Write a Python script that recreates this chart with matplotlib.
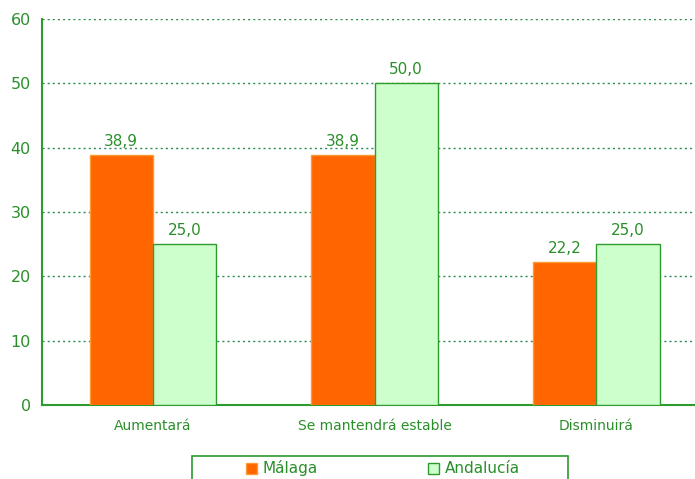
import matplotlib
matplotlib.use("Agg")
import matplotlib.pyplot as plt
from matplotlib.patches import Rectangle, Patch
import numpy as np

categories = ["Aumentará", "Se mantendrá estable", "Disminuirá"]
malaga = [38.9, 38.9, 22.2]
andalucia = [25.0, 50.0, 25.0]
series_names = ["Málaga", "Andalucía"]
yticks = [0, 10, 20, 30, 40, 50, 60]

GREEN = "#2E9B2E"
TXT = "#2A8F2A"
ORANGE = "#FF6600"
LIGHT = "#CCFFCC"

plt.rcParams['font.family'] = ['DejaVu Sans']
fig = plt.figure(figsize=(6.95, 4.79), dpi=100)
ax = fig.add_axes([0.0604, 0.1545, 0.9396, 0.8058])

x = np.arange(len(categories))
w = 0.285
b1 = ax.bar(x - w/2, malaga, w, color=ORANGE, edgecolor="#FF9933", linewidth=1, zorder=3)
b2 = ax.bar(x + w/2, andalucia, w, color=LIGHT, edgecolor=GREEN, linewidth=1, zorder=3)

for bars, vals in ((b1, malaga), (b2, andalucia)):
    for r, v in zip(bars, vals):
        ax.annotate(f"{v:.1f}".replace(".", ","), (r.get_x() + r.get_width()/2, v),
                    xytext=(0, 4.5), textcoords="offset points", ha="center", va="bottom",
                    fontsize=11, color=TXT)

ax.set_xlim(-0.5, 2.445)
ax.set_ylim(0, 60)
ax.set_yticks(yticks)
ax.set_xticks(x)
ax.set_xticklabels(categories, fontsize=10, color=TXT)
ax.tick_params(axis='y', labelsize=11.5, labelcolor=TXT, length=0, pad=8)
ax.tick_params(axis='x', length=0, pad=10)
ax.yaxis.grid(True, linestyle=(0, (1.5, 2.2)), color="#2E8B57", linewidth=1, zorder=0)
for s in ("top", "right"):
    ax.spines[s].set_visible(False)
for s in ("left", "bottom"):
    ax.spines[s].set_color(GREEN)
    ax.spines[s].set_linewidth(1.5)

# legend frame
fig.patches.append(Rectangle((192/695, -0.05), (568-192)/695, 0.05 + 23/479,
                             transform=fig.transFigure, fill=False, edgecolor=GREEN,
                             linewidth=1.2))
handles = [Patch(facecolor=ORANGE, edgecolor="#FF9933"), Patch(facecolor=LIGHT, edgecolor=GREEN)]
leg = fig.legend(handles, series_names, loc="center", bbox_to_anchor=(0.551, 0.022),
                 ncol=2, frameon=False, fontsize=11, handlelength=0.75, handleheight=0.75,
                 handletextpad=0.35, columnspacing=7.2)
for t in leg.get_texts():
    t.set_color(TXT)

fig.savefig("out.png", dpi=100)
